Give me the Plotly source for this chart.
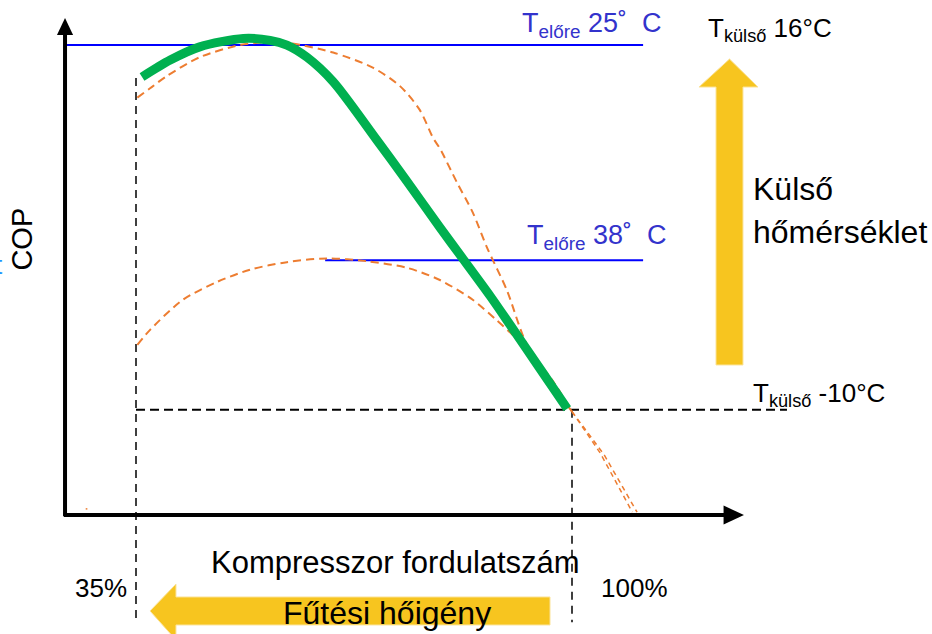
import plotly.graph_objects as go

# ---- axis extents (compressor speed in %, COP) ----
X_MIN, X_MAX = 14.725, 153.67
Y_MIN, Y_MAX = -1.266, 5.479

# ---- reference speeds ----
speed_min, speed_max = 35, 100
speed_labels = ["35%", "100%"]

# ---- optimum (weather-compensated) operating curve ----
opt_speed = [35.9, 40.1, 44.5, 51.0, 55.0, 57.5, 60.5, 64.4, 70.9, 75.4, 80.3, 83.8, 87.8,
             90.8, 95.2, 99.3]
opt_cop = [4.66, 4.84, 4.98, 5.07, 5.05, 5.00, 4.87, 4.61, 3.99, 3.55, 3.06, 2.72, 2.33,
           2.02, 1.56, 1.13]

# ---- COP curve, 25 °C flow temperature ----
cop25_speed = [35.2, 37.1, 39.6, 44.5, 50.5, 55.0, 58.0, 64.4, 70.3, 74.4, 77.3, 79.3, 80.3,
               82.9, 85.2, 87.3, 90.3, 93.3, 100.0]
cop25_cop = [4.44, 4.54, 4.67, 4.87, 5.00, 5.03, 5.02, 4.92, 4.76, 4.56, 4.31, 4.01, 3.90,
             3.53, 3.22, 2.85, 2.39, 1.81, 1.10]

# ---- COP curve, 38 °C flow temperature ----
cop38_speed = [35.2, 37.1, 42.0, 47.1, 52.0, 57.5, 63.5, 69.4, 75.4, 80.3, 85.2, 88.8, 90.8,
               93.7, 97.0, 100.0]
cop38_cop = [1.81, 1.97, 2.29, 2.48, 2.61, 2.69, 2.73, 2.70, 2.63, 2.50, 2.29, 2.07, 1.94,
             1.73, 1.44, 1.10]

# ---- continuation of both curves beyond full speed ----
tail_a_speed = [100.0, 104.2, 109.0]
tail_a_cop = [1.10, 0.66, 0.03]
tail_b_speed = [100.0, 104.8, 109.7]
tail_b_cop = [1.10, 0.64, 0.03]

# ---- flow-temperature COP levels ----
flow_labels = ["25", "38"]
flow_cop = [5.0, 2.71]
flow_start = [24.42, 63.2]
flow_end = 110.6

# ---- design outdoor temperature level ----
design_cop = 1.12
design_end = 132.05

# ---- axis geometry ----
AX_X0, AX_Y0 = 24.42, 0.0
AX_X_TIP, AX_Y_TIP = 125.64, 5.287

FONT = "Liberation Sans, Arial, sans-serif"
GREEN = "#00b050"
ORANGE = "#ed7d31"
BLUE = "#0000ff"
TXT_BLUE = "#3333cc"
YELLOW = "#f7c51f"

fig = go.Figure()

# flow temperature lines
for cop, x0 in zip(flow_cop, flow_start):
    fig.add_trace(go.Scatter(x=[x0, flow_end], y=[cop, cop], mode="lines",
                             line=dict(color=BLUE, width=2), hoverinfo="skip"))

# reference dashed lines
fig.add_trace(go.Scatter(x=[speed_min, design_end], y=[design_cop, design_cop], mode="lines",
                         line=dict(color="black", width=2, dash="9px,5px"), hoverinfo="skip"))
fig.add_trace(go.Scatter(x=[speed_min, speed_min], y=[4.65, -1.12], mode="lines",
                         line=dict(color="black", width=1.5, dash="8px,6px"), hoverinfo="skip"))
fig.add_trace(go.Scatter(x=[speed_max, speed_max], y=[design_cop, -1.14], mode="lines",
                         line=dict(color="black", width=1.5, dash="8px,6px"), hoverinfo="skip"))

# COP curves
for xs, ys in [(cop25_speed, cop25_cop), (cop38_speed, cop38_cop)]:
    fig.add_trace(go.Scatter(x=xs, y=ys, mode="lines",
                             line=dict(color=ORANGE, width=2, dash="8px,5px", shape="spline",
                                       smoothing=0.8), hoverinfo="skip"))
for xs, ys in [(tail_a_speed, tail_a_cop), (tail_b_speed, tail_b_cop)]:
    fig.add_trace(go.Scatter(x=xs, y=ys, mode="lines",
                             line=dict(color=ORANGE, width=1.5, dash="5px,4px"), hoverinfo="skip"))

# optimum curve
fig.add_trace(go.Scatter(x=opt_speed, y=opt_cop, mode="lines",
                         line=dict(color=GREEN, width=9, shape="spline", smoothing=0.8),
                         hoverinfo="skip"))

shapes = []
# axes with arrow heads
shapes.append(dict(type="line", xref="x", yref="y", x0=AX_X0, y0=AX_Y0 - 0.01, x1=AX_X0, y1=5.11,
                   line=dict(color="black", width=4)))
shapes.append(dict(type="path", xref="x", yref="y",
                   path=f"M {AX_X0 - 1.2},5.106 L {AX_X0 + 1.2},5.106 L {AX_X0},{AX_Y_TIP} Z",
                   fillcolor="black", line=dict(width=0)))
shapes.append(dict(type="line", xref="x", yref="y", x0=AX_X0 - 0.2, y0=AX_Y0, x1=122.7, y1=AX_Y0,
                   line=dict(color="black", width=4)))
shapes.append(dict(type="path", xref="x", yref="y",
                   path=f"M 122.6,{AX_Y0 + 0.1} L 122.6,{AX_Y0 - 0.1} L {AX_X_TIP},{AX_Y0} Z",
                   fillcolor="black", line=dict(width=0)))

# outdoor temperature arrow (upwards)
shapes.append(dict(type="path", xref="x", yref="y",
                   path="M 121.47,1.596 L 125.49,1.596 L 125.49,4.553 L 127.73,4.553 "
                        "L 123.48,4.851 L 118.93,4.553 L 121.47,4.553 Z",
                   fillcolor=YELLOW, line=dict(color="#fbe39a", width=1)))
# heating demand arrow (leftwards)
shapes.append(dict(type="path", xref="x", yref="y",
                   path="M 96.72,-0.872 L 40.96,-0.872 L 40.96,-0.734 L 37.09,-1.021 "
                        "L 40.96,-1.33 L 40.96,-1.17 L 96.72,-1.17 Z",
                   fillcolor=YELLOW, line=dict(color="#fbe39a", width=1)))
# small stray dash near the origin
shapes.append(dict(type="line", xref="x", yref="y", x0=27.5, y0=0.065, x1=27.75, y1=0.065,
                   line=dict(color=ORANGE, width=1.5)))

NB = "\u00a0"
ann = []
def label(text, x, y, size, color="black", xanchor="left", **kw):
    ann.append(dict(text=text, x=x, y=y, xref="x", yref="y", showarrow=False,
                    xanchor=xanchor, yanchor="middle",
                    font=dict(family=FONT, size=size, color=color), **kw))

label(f"T<sub>előre</sub> {flow_labels[0]}˚{NB}{NB}C", 92.3, 5.21, 27, TXT_BLUE)
label(f"T<sub>előre</sub> {flow_labels[1]}˚{NB}{NB}C", 93.0, 2.96, 27, TXT_BLUE)
label("T<sub>külső</sub> 16°C", 120.0, 5.16, 26)
label("Külső", 126.7, 3.47, 32)
label("hőmérséklet", 126.7, 3.01, 32)
label("T<sub>külső</sub> -10°C", 126.7, 1.28, 26)
label("Kompresszor fordulatszám", 73.69, -0.51, 31, xanchor="center")
label(speed_labels[0], 34.0, -0.78, 26, xanchor="right")
label(speed_labels[1], 104.0, -0.78, 26)
label("Fűtési hőigény", 72.42, -1.045, 32, xanchor="center")
label("COP", 18.0, 2.94, 29, xanchor="center", textangle=-90)
label("t", 15.4, 2.66, 26, color="#1e96ff", xanchor="right")

fig.update_layout(
    width=932, height=634,
    margin=dict(l=0, r=0, t=0, b=0),
    paper_bgcolor="white", plot_bgcolor="white",
    showlegend=False,
    xaxis=dict(range=[X_MIN, X_MAX], visible=False, fixedrange=True),
    yaxis=dict(range=[Y_MIN, Y_MAX], visible=False, fixedrange=True),
    shapes=shapes, annotations=ann,
)

fig.write_html("out.html")
